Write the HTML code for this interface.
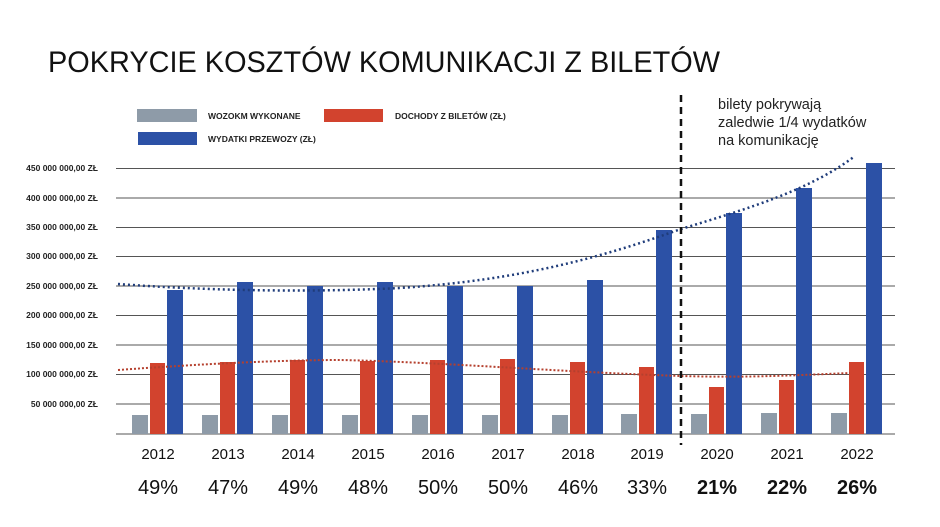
<!DOCTYPE html><html><head><style>body{margin:0;background:#fff;}svg{display:block}</style></head><body>
<svg width="940" height="527" xmlns="http://www.w3.org/2000/svg" font-family="Liberation Sans, DejaVu Sans, sans-serif">
<rect width="940" height="527" fill="#fff"/>
<text x="48" y="72" font-size="30" fill="#111" textLength="672" lengthAdjust="spacingAndGlyphs">POKRYCIE KOSZTÓW KOMUNIKACJI Z BILETÓW</text>
<rect x="137" y="109" width="60" height="13" fill="#8e9ba8"/>
<text x="208" y="119" font-size="8.5" font-weight="bold" fill="#222">WOZOKM WYKONANE</text>
<rect x="324" y="109" width="59" height="13" fill="#d2432e"/>
<text x="395" y="119" font-size="8.5" font-weight="bold" fill="#222">DOCHODY Z BILETÓW (ZŁ)</text>
<rect x="138" y="132" width="59" height="13" fill="#2c51a6"/>
<text x="208" y="142" font-size="8.5" font-weight="bold" fill="#222">WYDATKI PRZEWOZY (ZŁ)</text>
<g stroke="#555" stroke-width="1">
<line x1="116" x2="895" y1="168.5" y2="168.5"/><line x1="116" x2="895" y1="198" y2="198"/><line x1="116" x2="895" y1="227.5" y2="227.5"/><line x1="116" x2="895" y1="256.5" y2="256.5"/><line x1="116" x2="895" y1="286" y2="286"/><line x1="116" x2="895" y1="315.5" y2="315.5"/><line x1="116" x2="895" y1="345" y2="345"/><line x1="116" x2="895" y1="374.5" y2="374.5"/><line x1="116" x2="895" y1="404" y2="404"/><line x1="116" x2="895" y1="434" y2="434"/>
</g>
<g font-size="8.5" font-weight="bold" fill="#222" text-anchor="end">
<text x="98" y="171">450 000 000,00 ZŁ</text><text x="98" y="201">400 000 000,00 ZŁ</text><text x="98" y="230">350 000 000,00 ZŁ</text><text x="98" y="259">300 000 000,00 ZŁ</text><text x="98" y="289">250 000 000,00 ZŁ</text><text x="98" y="318">200 000 000,00 ZŁ</text><text x="98" y="348">150 000 000,00 ZŁ</text><text x="98" y="377">100 000 000,00 ZŁ</text><text x="98" y="407">50 000 000,00 ZŁ</text>
</g>
<g fill="#8e9ba8">
<rect x="132" y="415" width="16" height="19"/><rect x="202" y="415" width="16" height="19"/><rect x="272" y="415" width="16" height="19"/><rect x="342" y="415" width="16" height="19"/><rect x="412" y="415" width="16" height="19"/><rect x="482" y="415" width="16" height="19"/><rect x="552" y="415" width="16" height="19"/><rect x="621" y="414" width="16" height="20"/><rect x="691" y="414" width="16" height="20"/><rect x="761" y="413" width="16" height="21"/><rect x="831" y="413" width="16" height="21"/>
</g>
<g fill="#d2432e">
<rect x="150" y="363" width="15" height="71"/><rect x="220" y="362" width="15" height="72"/><rect x="290" y="360" width="15" height="74"/><rect x="360" y="361" width="15" height="73"/><rect x="430" y="360" width="15" height="74"/><rect x="500" y="359" width="15" height="75"/><rect x="570" y="362" width="15" height="72"/><rect x="639" y="367" width="15" height="67"/><rect x="709" y="387" width="15" height="47"/><rect x="779" y="380" width="15" height="54"/><rect x="849" y="362" width="15" height="72"/>
</g>
<g fill="#2c51a6">
<rect x="167" y="290" width="16" height="144"/><rect x="237" y="282" width="16" height="152"/><rect x="307" y="286" width="16" height="148"/><rect x="377" y="282" width="16" height="152"/><rect x="447" y="286" width="16" height="148"/><rect x="517" y="286" width="16" height="148"/><rect x="587" y="280" width="16" height="154"/><rect x="656" y="230" width="16" height="204"/><rect x="726" y="213" width="16" height="221"/><rect x="796" y="188" width="16" height="246"/><rect x="866" y="163" width="16" height="271"/>
</g>
<path d="M118 284 C200 290 300 293 400 288 C520 280 600 258 681 229 C750 208 810 190 855 156" fill="none" stroke="#1f3c7a" stroke-width="2.5" stroke-dasharray="2 3"/>
<path d="M118 370 C200 364 280 360 340 360 C440 362 560 372 681 376 C750 378 800 375 850 373" fill="none" stroke="#b5402e" stroke-width="2" stroke-dasharray="2 2"/>
<line x1="681" y1="95" x2="681" y2="445" stroke="#111" stroke-width="2.5" stroke-dasharray="7 5"/>
<g font-size="14.5" fill="#222">
<text x="718" y="109">bilety pokrywają</text><text x="718" y="127">zaledwie 1/4 wydatków</text><text x="718" y="145">na komunikację</text>
</g>
<g font-size="15" fill="#111" text-anchor="middle">
<text x="158" y="459">2012</text><text x="228" y="459">2013</text><text x="298" y="459">2014</text><text x="368" y="459">2015</text><text x="438" y="459">2016</text><text x="508" y="459">2017</text><text x="578" y="459">2018</text><text x="647" y="459">2019</text><text x="717" y="459">2020</text><text x="787" y="459">2021</text><text x="857" y="459">2022</text>
</g>
<g font-size="20" fill="#111" text-anchor="middle">
<text x="158" y="494">49%</text><text x="228" y="494">47%</text><text x="298" y="494">49%</text><text x="368" y="494">48%</text><text x="438" y="494">50%</text><text x="508" y="494">50%</text><text x="578" y="494">46%</text><text x="647" y="494">33%</text>
<text x="717" y="494" font-weight="bold">21%</text><text x="787" y="494" font-weight="bold">22%</text><text x="857" y="494" font-weight="bold">26%</text>
</g>
</svg>
</body></html>
